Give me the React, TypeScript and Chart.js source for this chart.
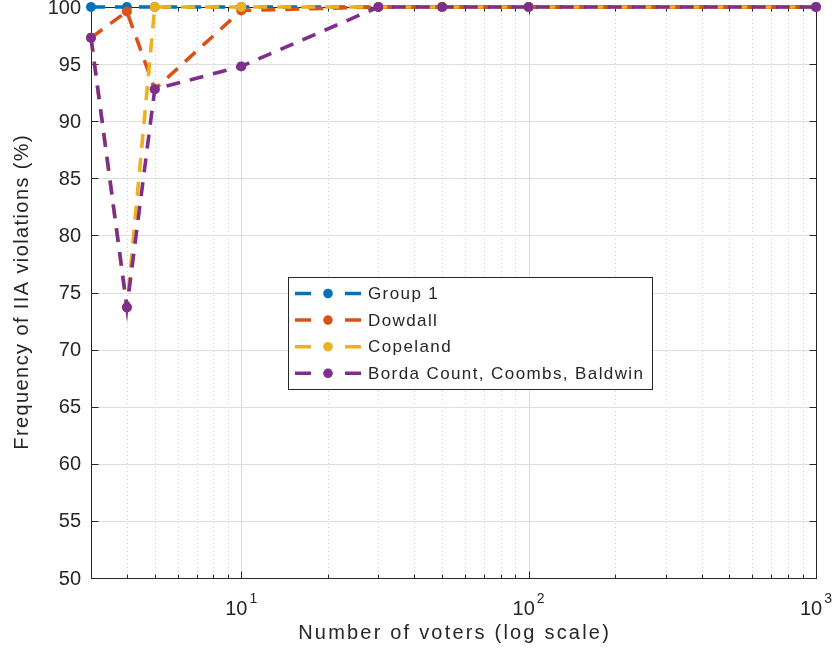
import { useEffect, useRef } from "react";
import { Chart, registerables } from "chart.js";

Chart.register(...registerables);

// ---- data ----
const voters = [3, 4, 5, 10, 30, 50, 100, 1000];
const group1 = [100, 100, 100, 100, 100, 100, 100, 100];
const dowdall = [97.3, 99.6, 92.8, 99.7, 100, 100, 100, 100];
const copeland = [97.3, 73.7, 100, 100, 100, 100, 100, 100];
const borda = [97.3, 73.7, 92.8, 94.8, 100, 100, 100, 100];

const seriesNames = ["Group 1", "Dowdall", "Copeland", "Borda Count, Coombs, Baldwin"];
const seriesColors = ["#0072BD", "#D95319", "#EDB120", "#7E2F8E"];

const yTicks = [50, 55, 60, 65, 70, 75, 80, 85, 90, 95, 100];
const xMajorTicks = [10, 100, 1000];
const xMajorExponents = ["1", "2", "3"];
const xMinorTicks = [3, 4, 5, 6, 7, 8, 9, 20, 30, 40, 50, 60, 70, 80, 90, 200, 300, 400, 500, 600, 700, 800, 900];

const xTitle = "Number of voters (log scale)";
const yTitle = "Frequency of IIA violations (%)";

const FONT = '"Liberation Sans", Arial, Helvetica, sans-serif';
const AXIS = "#262626";

function drawText(
  ctx: CanvasRenderingContext2D,
  s: string,
  x: number,
  y: number,
  size: number,
  align: CanvasTextAlign,
  spacing: number,
  baseline: CanvasTextBaseline = "middle"
) {
  ctx.font = `${size}px ${FONT}`;
  (ctx as any).letterSpacing = `${spacing}px`;
  ctx.textAlign = align;
  ctx.textBaseline = baseline;
  ctx.fillStyle = AXIS;
  let dx = 0;
  if (spacing && align === "center") dx = spacing / 2;
  ctx.fillText(s, x + dx, y);
  (ctx as any).letterSpacing = "0px";
}

const matlabPlugin = {
  id: "matlabAxes",
  beforeDatasetsDraw(chart: any) {
    const { ctx, chartArea: a, scales } = chart;
    const xs = scales.x;
    const ys = scales.y;
    ctx.save();
    // minor x grid (dotted)
    ctx.lineWidth = 1;
    ctx.strokeStyle = "#cdcdcd";
    ctx.setLineDash([1, 3]);
    xMinorTicks.forEach((v) => {
      const px = Math.round(xs.getPixelForValue(v)) + 0.5;
      if (px <= a.left + 1 || px >= a.right - 1) return;
      ctx.beginPath();
      ctx.moveTo(px, a.top);
      ctx.lineTo(px, a.bottom);
      ctx.stroke();
    });
    ctx.setLineDash([]);
    // major grid
    ctx.strokeStyle = "#dedede";
    xMajorTicks.forEach((v) => {
      const px = Math.round(xs.getPixelForValue(v)) + 0.5;
      ctx.beginPath();
      ctx.moveTo(px, a.top);
      ctx.lineTo(px, a.bottom);
      ctx.stroke();
    });
    yTicks.forEach((v) => {
      const py = Math.round(ys.getPixelForValue(v)) + 0.5;
      ctx.beginPath();
      ctx.moveTo(a.left, py);
      ctx.lineTo(a.right, py);
      ctx.stroke();
    });
    // box
    ctx.strokeStyle = AXIS;
    ctx.lineWidth = 1;
    const L = Math.round(a.left) + 0.5;
    const R = Math.round(a.right) + 0.5;
    const T = Math.round(a.top) + 0.5;
    const B = Math.round(a.bottom) + 0.5;
    ctx.strokeRect(L, T, R - L, B - T);
    // ticks
    ctx.beginPath();
    yTicks.forEach((v) => {
      const py = Math.round(ys.getPixelForValue(v)) + 0.5;
      ctx.moveTo(L, py);
      ctx.lineTo(L + 7, py);
      ctx.moveTo(R, py);
      ctx.lineTo(R - 7, py);
    });
    xMajorTicks.forEach((v) => {
      const px = Math.round(xs.getPixelForValue(v)) + 0.5;
      ctx.moveTo(px, B);
      ctx.lineTo(px, B - 7);
      ctx.moveTo(px, T);
      ctx.lineTo(px, T + 7);
    });
    xMinorTicks.forEach((v) => {
      const px = Math.round(xs.getPixelForValue(v)) + 0.5;
      ctx.moveTo(px, B);
      ctx.lineTo(px, B - 4);
      ctx.moveTo(px, T);
      ctx.lineTo(px, T + 4);
    });
    ctx.stroke();
    ctx.restore();
  },
  afterDatasetsDraw(chart: any) {
    const { ctx, chartArea: a, scales } = chart;
    const xs = scales.x;
    const ys = scales.y;
    ctx.save();
    // y tick labels
    yTicks.forEach((v) => {
      const py = ys.getPixelForValue(v);
      drawText(ctx, String(v), a.left - 10, py + 1, 20, "right", 0);
    });
    // x tick labels with superscripts
    xMajorTicks.forEach((v, i) => {
      const px = xs.getPixelForValue(v);
      ctx.font = `20px ${FONT}`;
      const wBase = ctx.measureText("10").width;
      ctx.font = `14px ${FONT}`;
      const wSup = ctx.measureText(xMajorExponents[i]).width;
      const total = wBase + 2 + wSup;
      const start = px - total / 2;
      drawText(ctx, "10", start, a.bottom + 37, 20, "left", 0, "alphabetic");
      drawText(ctx, xMajorExponents[i], start + wBase + 2, a.bottom + 25, 14, "left", 0, "alphabetic");
    });
    // axis titles
    drawText(ctx, xTitle, (a.left + a.right) / 2, a.bottom + 55, 20, "center", 2.2);
    ctx.save();
    ctx.translate(22, (a.top + a.bottom) / 2);
    ctx.rotate(-Math.PI / 2);
    drawText(ctx, yTitle, 0, 0, 20, "center", 1.4);
    ctx.restore();

    // legend
    const lx = 288.5, ly = 277.5, lw = 364, lh = 112;
    ctx.fillStyle = "#ffffff";
    ctx.fillRect(lx, ly, lw, lh);
    ctx.strokeStyle = AXIS;
    ctx.lineWidth = 1;
    ctx.strokeRect(lx, ly, lw, lh);
    chart.data.datasets.forEach((ds: any, i: number) => {
      const cy = 293.5 + i * 26.6;
      ctx.strokeStyle = ds.borderColor;
      ctx.lineWidth = 3.5;
      ctx.beginPath();
      ctx.moveTo(295, cy);
      ctx.lineTo(311, cy);
      ctx.moveTo(345, cy);
      ctx.lineTo(361, cy);
      ctx.stroke();
      ctx.fillStyle = ds.borderColor;
      ctx.beginPath();
      ctx.arc(328, cy, 4.8, 0, Math.PI * 2);
      ctx.fill();
      drawText(ctx, ds.label, 368, cy + 1, 17, "left", 1.4);
    });
    ctx.restore();
  },
};

export default function App() {
  const ref = useRef<HTMLCanvasElement | null>(null);

  useEffect(() => {
    if (!ref.current) return;
    const allSeries = [group1, dowdall, copeland, borda];
    const datasets = allSeries.map((vals, i) => ({
      label: seriesNames[i],
      data: voters.map((v, j) => ({ x: v, y: vals[j] })),
      borderColor: seriesColors[i],
      backgroundColor: seriesColors[i],
      borderWidth: 3.6,
      borderDash: [14, 10],
      pointRadius: 5,
      pointHoverRadius: 5,
      pointBorderWidth: 0,
      pointBackgroundColor: seriesColors[i],
      tension: 0,
      clip: false as any,
      order: 3 - i,
    }));
    const chart = new Chart(ref.current, {
      type: "line",
      data: { datasets },
      options: {
        animation: false,
        responsive: false,
        maintainAspectRatio: false,
        layout: { padding: { top: 7, right: 19, left: 0, bottom: 0 } },
        plugins: { legend: { display: false }, tooltip: { enabled: false } },
        scales: {
          x: {
            type: "logarithmic",
            min: 3,
            max: 1000,
            ticks: { display: false },
            grid: { display: false },
            border: { display: false },
            afterFit: (s: any) => {
              s.height = 83;
            },
          },
          y: {
            type: "linear",
            min: 50,
            max: 100,
            ticks: { display: false },
            grid: { display: false },
            border: { display: false },
            afterFit: (s: any) => {
              s.width = 91;
            },
          },
        },
      },
      plugins: [matlabPlugin],
    });
    return () => chart.destroy();
  }, []);

  return (
    <div style={{ position: "absolute", left: 0, top: 0, width: 835, height: 661, background: "#fff" }}>
      <canvas ref={ref} width={835} height={661} style={{ display: "block" }} />
    </div>
  );
}
